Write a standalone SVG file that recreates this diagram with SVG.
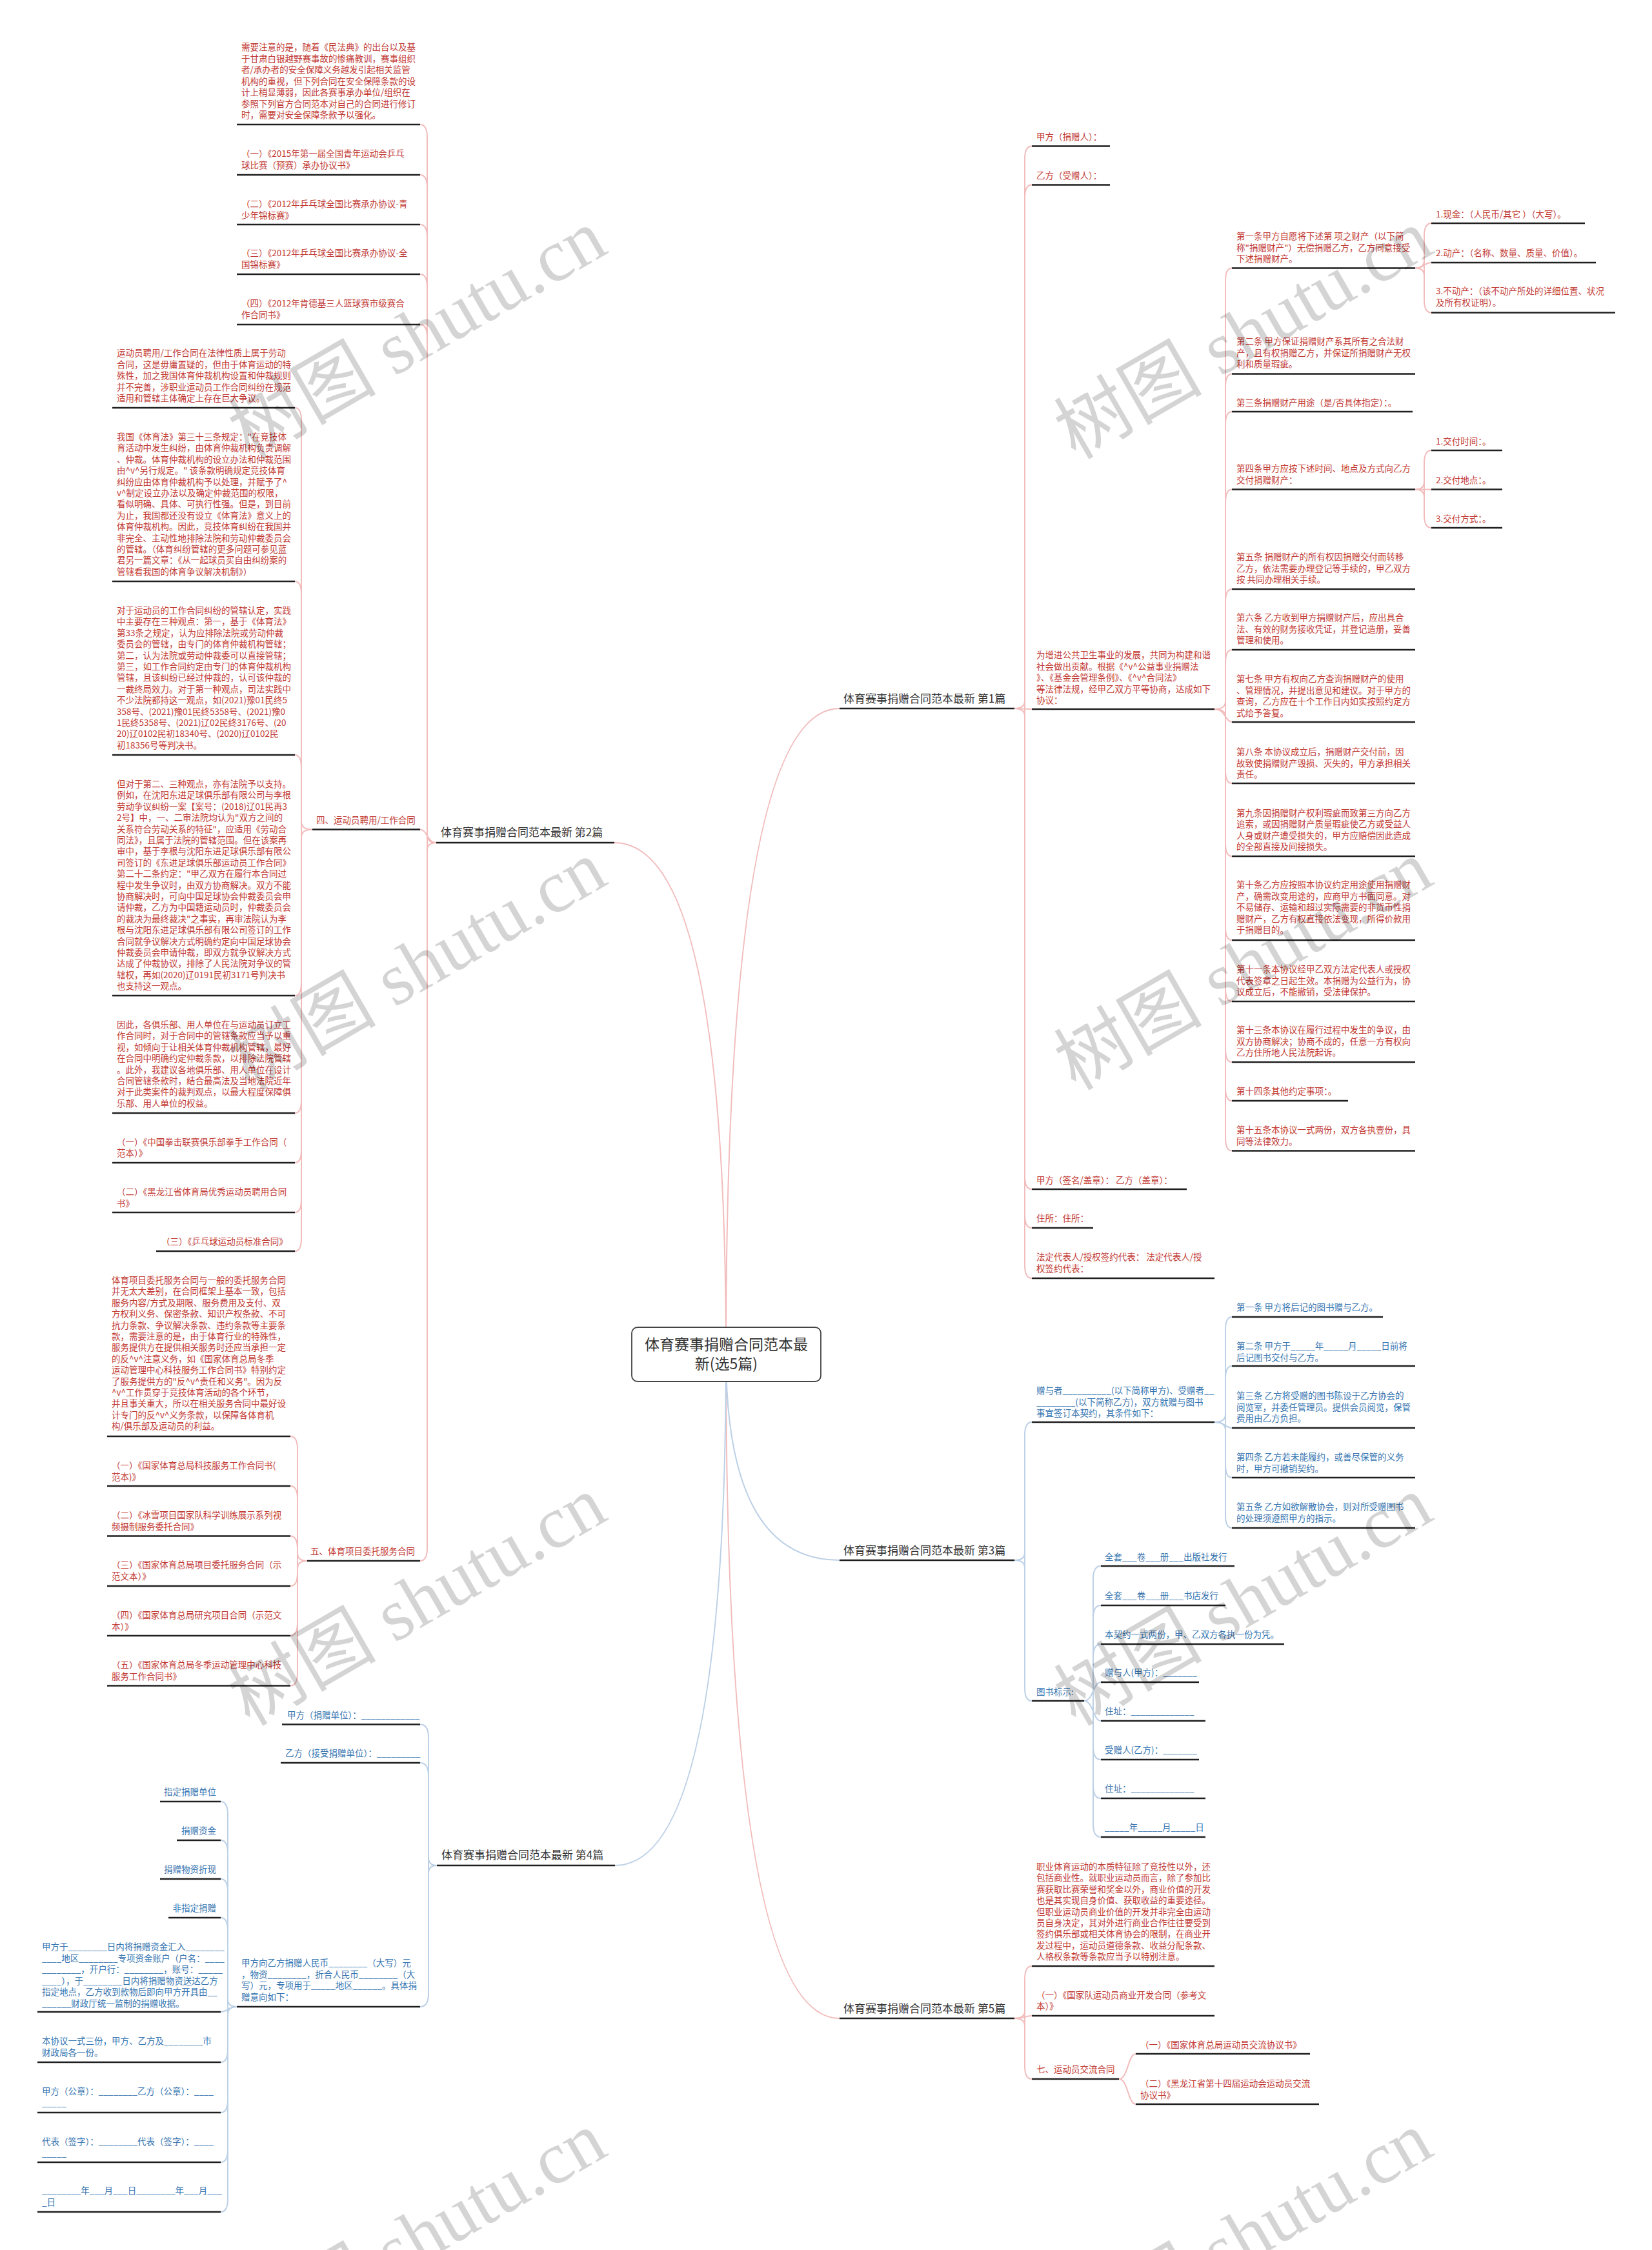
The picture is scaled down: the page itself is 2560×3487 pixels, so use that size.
<svg xmlns="http://www.w3.org/2000/svg" width="2560" height="3487" viewBox="0 0 2560 3487">
<style>
text{font-family:"Noto Sans CJK SC","Liberation Sans",sans-serif;font-size:13.5px}
.r{fill:#c23a34}
.b{fill:#3574b0}
.h{fill:#333;font-size:17px}
.ul{stroke:#1f1f1f;stroke-width:2.5}
.cp{fill:none;stroke:#f2bcbc;stroke-width:2}
.cb{fill:none;stroke:#bcd0e6;stroke-width:2}
#watermark text{fill:#000;fill-opacity:0.17;font-family:"Liberation Serif","Noto Sans CJK SC",serif;font-size:115px}
</style>
<rect width="2560" height="3487" fill="#fff"/>

<g id="connectors">
<g class="cp">
<path d="M1125 2099 Q1125 1098 1301 1098"/>
<path d="M1125 2099 Q1125 1306 952 1306"/>
<path d="M1125 2099 Q1125 3128 1301 3128"/>
<!-- G2 -->
<path d="M662 213 L662 2399"/>
<path d="M651 193 Q662 193 662 213"/><path d="M651 271 Q662 271 662 291"/><path d="M651 348 Q662 348 662 368"/><path d="M651 425 Q662 425 662 445"/><path d="M651 503 Q662 503 662 523"/>
<path d="M651 1285.5 C662 1285.5 662 1306 676 1306"/>
<path d="M651 2419 Q662 2419 662 2399"/>
<path d="M662 1294 Q662 1306 676 1306"/><path d="M662 1318 Q662 1306 676 1306"/>
<!-- G四 -->
<path d="M467 652 L467 1919"/>
<path d="M457 632 Q467 632 467 652"/><path d="M457 901 Q467 901 467 921"/><path d="M457 1170 Q467 1170 467 1190"/>
<path d="M457 1543 Q467 1543 467 1523"/><path d="M457 1725 Q467 1725 467 1705"/><path d="M457 1802 Q467 1802 467 1782"/><path d="M457 1879 Q467 1879 467 1859"/><path d="M457 1939 Q467 1939 467 1919"/>
<path d="M467 1273.5 Q467 1285.5 484 1285.5"/><path d="M467 1297.5 Q467 1285.5 484 1285.5"/>
<!-- G五 -->
<path d="M461 2246 L461 2592.6"/>
<path d="M450 2226 Q461 2226 461 2246"/><path d="M450 2303 Q461 2303 461 2323"/><path d="M450 2380.5 Q461 2380.5 461 2400.5"/>
<path d="M450 2458 Q461 2458 461 2438"/><path d="M450 2535 Q461 2535 461 2515"/><path d="M450 2612.6 Q461 2612.6 461 2592.6"/>
<path d="M461 2407 Q461 2419 476 2419"/><path d="M461 2431 Q461 2419 476 2419"/>
<!-- G1 -->
<path d="M1588 246.6 L1588 1961"/>
<path d="M1599 226.6 Q1588 226.6 1588 246.6"/><path d="M1599 286.4 Q1588 286.4 1588 306.4"/>
<path d="M1572 1098 L1599 1099"/>
<path d="M1599 1843 Q1588 1843 1588 1823"/><path d="M1599 1903 Q1588 1903 1588 1883"/><path d="M1599 1981 Q1588 1981 1588 1961"/>
<path d="M1588 1086 Q1588 1098 1572 1098"/><path d="M1588 1110 Q1588 1098 1572 1098"/>
<!-- G为增进 -->
<path d="M1899 435.6 L1899 1763.5"/>
<path d="M1909 415.6 Q1899 415.6 1899 435.6"/><path d="M1909 579.5 Q1899 579.5 1899 599.5"/><path d="M1909 638 Q1899 638 1899 658"/><path d="M1909 758.6 Q1899 758.6 1899 778.6"/><path d="M1909 913 Q1899 913 1899 933"/><path d="M1909 1007 Q1899 1007 1899 1027"/>
<path d="M1909 1119 C1899 1119 1899 1099 1882 1099"/>
<path d="M1909 1214 Q1899 1214 1899 1194"/><path d="M1909 1327 Q1899 1327 1899 1307"/><path d="M1909 1457 Q1899 1457 1899 1437"/><path d="M1909 1552 Q1899 1552 1899 1532"/><path d="M1909 1646 Q1899 1646 1899 1626"/><path d="M1909 1706 Q1899 1706 1899 1686"/><path d="M1909 1783.5 Q1899 1783.5 1899 1763.5"/>
<path d="M1899 1087 Q1899 1099 1882 1099"/><path d="M1899 1111 Q1899 1099 1882 1099"/>
<!-- G第一条 -->
<path d="M2207 366 L2207 464.5"/>
<path d="M2218 346 Q2207 346 2207 366"/><path d="M2218 407 C2207 407 2207 415.6 2193 415.6"/><path d="M2218 484.5 Q2207 484.5 2207 464.5"/>
<path d="M2207 403.6 Q2207 415.6 2193 415.6"/><path d="M2207 427.6 Q2207 415.6 2193 415.6"/>
<!-- G第四条 -->
<path d="M2207 718 L2207 798"/>
<path d="M2218 698 Q2207 698 2207 718"/><path d="M2193 758.6 L2218 758.6"/><path d="M2218 818 Q2207 818 2207 798"/>
<path d="M2207 746.6 Q2207 758.6 2193 758.6"/><path d="M2207 770.6 Q2207 758.6 2193 758.6"/>
<!-- G5 -->
<path d="M1588 3067 L1588 3202"/>
<path d="M1599 3047 Q1588 3047 1588 3067"/><path d="M1599 3124 C1588 3124 1588 3128 1572 3128"/><path d="M1599 3222 Q1588 3222 1588 3202"/>
<path d="M1588 3116 Q1588 3128 1572 3128"/><path d="M1588 3140 Q1588 3128 1572 3128"/>
<!-- G七 -->
<path d="M1760 3183 C1748 3183 1748 3222 1734 3222"/><path d="M1760 3261 C1748 3261 1748 3222 1734 3222"/>
</g>
<g class="cb">
<path d="M1125 2099 Q1125 2418 1301 2418"/>
<path d="M1125 2099 Q1125 2891 953 2891"/>
<!-- G4 -->
<path d="M664 2692.6 L664 3090"/>
<path d="M651 2672.6 Q664 2672.6 664 2692.6"/><path d="M651 2732 Q664 2732 664 2752"/><path d="M651 3110 Q664 3110 664 3090"/>
<path d="M664 2879 Q664 2891 677 2891"/><path d="M664 2903 Q664 2891 677 2891"/>
<!-- G甲方向 -->
<path d="M353 2812 L353 3408"/>
<path d="M342 2792 Q353 2792 353 2812"/><path d="M342 2852 Q353 2852 353 2872"/><path d="M342 2912 Q353 2912 353 2932"/><path d="M342 2972 Q353 2972 353 2992"/>
<path d="M342 3118 C353 3118 353 3110 367 3110"/>
<path d="M342 3196 Q353 3196 353 3176"/><path d="M342 3274 Q353 3274 353 3254"/><path d="M342 3351 Q353 3351 353 3331"/><path d="M342 3428 Q353 3428 353 3408"/>
<path d="M353 3098 Q353 3110 367 3110"/><path d="M353 3122 Q353 3110 367 3110"/>
<!-- G3 -->
<path d="M1588 2224 L1588 2616"/>
<path d="M1599 2204 Q1588 2204 1588 2224"/><path d="M1599 2636 Q1588 2636 1588 2616"/>
<path d="M1588 2406 Q1588 2418 1572 2418"/><path d="M1588 2430 Q1588 2418 1572 2418"/>
<!-- G赠与者 -->
<path d="M1899 2061 L1899 2348"/>
<path d="M1909 2041 Q1899 2041 1899 2061"/><path d="M1909 2117 Q1899 2117 1899 2137"/><path d="M1909 2213 C1899 2213 1899 2204 1882 2204"/><path d="M1909 2290 Q1899 2290 1899 2270"/><path d="M1909 2368 Q1899 2368 1899 2348"/>
<path d="M1899 2192 Q1899 2204 1882 2204"/><path d="M1899 2216 Q1899 2204 1882 2204"/>
<!-- G图书标示 -->
<path d="M1694 2447 L1694 2827"/>
<path d="M1706 2427 Q1694 2427 1694 2447"/><path d="M1706 2488 Q1694 2488 1694 2508"/><path d="M1706 2548 Q1694 2548 1694 2568"/>
<path d="M1706 2607 C1694 2607 1694 2636 1680 2636"/><path d="M1706 2667 C1694 2667 1694 2636 1680 2636"/>
<path d="M1706 2727 Q1694 2727 1694 2707"/><path d="M1706 2787 Q1694 2787 1694 2767"/><path d="M1706 2847 Q1694 2847 1694 2827"/>
</g>
</g>

<g id="root">
<rect x="979" y="2057" width="293" height="84" rx="9" fill="#fff" stroke="#444" stroke-width="1.8"/>
<text x="1125.5" y="2092" text-anchor="middle" style="font-size:23px;fill:#333">体育赛事捐赠合同范本最</text>
<text x="1125.5" y="2122" text-anchor="middle" style="font-size:23px;fill:#333">新(选5篇)</text>
</g>

<g id="b1"><text class="h" x="1307" y="1089">体育赛事捐赠合同范本最新 第1篇</text><line class="ul" x1="1301" y1="1098" x2="1572" y2="1098"/></g>
<g id="b2"><text class="h" x="683" y="1296">体育赛事捐赠合同范本最新 第2篇</text><line class="ul" x1="676" y1="1306" x2="952" y2="1306"/></g>
<g id="b3"><text class="h" x="1307" y="2409">体育赛事捐赠合同范本最新 第3篇</text><line class="ul" x1="1301" y1="2418" x2="1572" y2="2418"/></g>
<g id="b4"><text class="h" x="684" y="2881">体育赛事捐赠合同范本最新 第4篇</text><line class="ul" x1="677" y1="2891" x2="953" y2="2891"/></g>
<g id="b5"><text class="h" x="1307" y="3119">体育赛事捐赠合同范本最新 第5篇</text><line class="ul" x1="1301" y1="3128" x2="1572" y2="3128"/></g>

<!-- 第2篇 children -->
<g id="n2a"><text class="r" x="374" y="78"><tspan x="374">需要注意的是，随着《民法典》的出台以及基</tspan><tspan x="374" dy="17.5">于甘肃白银越野赛事故的惨痛教训，赛事组织</tspan><tspan x="374" dy="17.5">者/承办者的安全保障义务越发引起相关监管</tspan><tspan x="374" dy="17.5">机构的重视，但下列合同在安全保障条款的设</tspan><tspan x="374" dy="17.5">计上稍显薄弱，因此各赛事承办单位/组织在</tspan><tspan x="374" dy="17.5">参照下列官方合同范本对自己的合同进行修订</tspan><tspan x="374" dy="17.5">时，需要对安全保障条款予以强化。</tspan></text><line class="ul" x1="367" y1="193" x2="651" y2="193"/></g>
<g id="n2b"><text class="r" x="374" y="243"><tspan x="374">（一）《2015年第一届全国青年运动会乒乓</tspan><tspan x="374" dy="17.5">球比赛（预赛）承办协议书》</tspan></text><line class="ul" x1="367" y1="271" x2="651" y2="271"/></g>
<g id="n2c"><text class="r" x="374" y="321"><tspan x="374">（二）《2012年乒乓球全国比赛承办协议-青</tspan><tspan x="374" dy="17.5">少年锦标赛》</tspan></text><line class="ul" x1="367" y1="348" x2="651" y2="348"/></g>
<g id="n2d"><text class="r" x="374" y="397"><tspan x="374">（三）《2012年乒乓球全国比赛承办协议-全</tspan><tspan x="374" dy="17.5">国锦标赛》</tspan></text><line class="ul" x1="367" y1="425" x2="651" y2="425"/></g>
<g id="n2e"><text class="r" x="374" y="475"><tspan x="374">（四）《2012年肯德基三人篮球赛市级赛合</tspan><tspan x="374" dy="17.5">作合同书》</tspan></text><line class="ul" x1="367" y1="503" x2="651" y2="503"/></g>
<g id="n2f"><text class="r" x="490" y="1276">四、运动员聘用/工作合同</text><line class="ul" x1="484" y1="1285.5" x2="651" y2="1285.5"/></g>
<g id="n2g"><text class="r" x="481" y="2409">五、体育项目委托服务合同</text><line class="ul" x1="476" y1="2419" x2="651" y2="2419"/></g>

<!-- 四 children -->
<g id="n4a"><text class="r" x="181" y="552"><tspan x="181">运动员聘用/工作合同在法律性质上属于劳动</tspan><tspan x="181" dy="17.5">合同，这是毋庸置疑的，但由于体育运动的特</tspan><tspan x="181" dy="17.5">殊性，加之我国体育仲裁机构设置和仲裁规则</tspan><tspan x="181" dy="17.5">并不完善，涉职业运动员工作合同纠纷在规范</tspan><tspan x="181" dy="17.5">适用和管辖主体确定上存在巨大争议。</tspan></text><line class="ul" x1="174" y1="632" x2="457" y2="632"/></g>
<g id="n4b"><text class="r" x="181" y="682"><tspan x="181">我国《体育法》第三十三条规定："在竞技体</tspan><tspan x="181" dy="17.4">育活动中发生纠纷，由体育仲裁机构负责调解</tspan><tspan x="181" dy="17.4">、仲裁。体育仲裁机构的设立办法和仲裁范围</tspan><tspan x="181" dy="17.4">由^v^另行规定。" 该条款明确规定竞技体育</tspan><tspan x="181" dy="17.4">纠纷应由体育仲裁机构予以处理，并赋予了^</tspan><tspan x="181" dy="17.4">v^制定设立办法以及确定仲裁范围的权限，</tspan><tspan x="181" dy="17.4">看似明确、具体、可执行性强。但是，到目前</tspan><tspan x="181" dy="17.4">为止，我国都还没有设立《体育法》意义上的</tspan><tspan x="181" dy="17.4">体育仲裁机构。因此，竞技体育纠纷在我国并</tspan><tspan x="181" dy="17.4">非完全、主动性地排除法院和劳动仲裁委员会</tspan><tspan x="181" dy="17.4">的管辖。（体育纠纷管辖的更多问题可参见蓝</tspan><tspan x="181" dy="17.4">君另一篇文章：《从一起球员买自由纠纷案的</tspan><tspan x="181" dy="17.4">管辖看我国的体育争议解决机制》）</tspan></text><line class="ul" x1="174" y1="901" x2="457" y2="901"/></g>
<g id="n4c"><text class="r" x="181" y="951"><tspan x="181">对于运动员的工作合同纠纷的管辖认定，实践</tspan><tspan x="181" dy="17.4">中主要存在三种观点：第一，基于《体育法》</tspan><tspan x="181" dy="17.4">第33条之规定，认为应排除法院或劳动仲裁</tspan><tspan x="181" dy="17.4">委员会的管辖，由专门的体育仲裁机构管辖；</tspan><tspan x="181" dy="17.4">第二，认为法院或劳动仲裁委可以直接管辖；</tspan><tspan x="181" dy="17.4">第三，如工作合同约定由专门的体育仲裁机构</tspan><tspan x="181" dy="17.4">管辖，且该纠纷已经过仲裁的，认可该仲裁的</tspan><tspan x="181" dy="17.4">一裁终局效力。对于第一种观点，司法实践中</tspan><tspan x="181" dy="17.4">不少法院都持这一观点，如(2021)豫01民终5</tspan><tspan x="181" dy="17.4">358号、(2021)豫01民终5358号、(2021)豫0</tspan><tspan x="181" dy="17.4">1民终5358号、(2021)辽02民终3176号、(20</tspan><tspan x="181" dy="17.4">20)辽0102民初18340号、(2020)辽0102民</tspan><tspan x="181" dy="17.4">初18356号等判决书。</tspan></text><line class="ul" x1="174" y1="1170" x2="457" y2="1170"/></g>
<g id="n4d"><text class="r" x="181" y="1220"><tspan x="181">但对于第二、三种观点，亦有法院予以支持。</tspan><tspan x="181" dy="17.4">例如，在沈阳东进足球俱乐部有限公司与李根</tspan><tspan x="181" dy="17.4">劳动争议纠纷一案【案号：(2018)辽01民再3</tspan><tspan x="181" dy="17.4">2号】中，一、二审法院均认为"双方之间的</tspan><tspan x="181" dy="17.4">关系符合劳动关系的特征"，应适用《劳动合</tspan><tspan x="181" dy="17.4">同法》，且属于法院的管辖范围。但在该案再</tspan><tspan x="181" dy="17.4">审中，基于李根与沈阳东进足球俱乐部有限公</tspan><tspan x="181" dy="17.4">司签订的《东进足球俱乐部运动员工作合同》</tspan><tspan x="181" dy="17.4">第二十二条约定："甲乙双方在履行本合同过</tspan><tspan x="181" dy="17.4">程中发生争议时，由双方协商解决。双方不能</tspan><tspan x="181" dy="17.4">协商解决时，可向中国足球协会仲裁委员会申</tspan><tspan x="181" dy="17.4">请仲裁，乙方为中国籍运动员时，仲裁委员会</tspan><tspan x="181" dy="17.4">的裁决为最终裁决"之事实，再审法院认为李</tspan><tspan x="181" dy="17.4">根与沈阳东进足球俱乐部有限公司签订的工作</tspan><tspan x="181" dy="17.4">合同就争议解决方式明确约定向中国足球协会</tspan><tspan x="181" dy="17.4">仲裁委员会申请仲裁，即双方就争议解决方式</tspan><tspan x="181" dy="17.4">达成了仲裁协议，排除了人民法院对争议的管</tspan><tspan x="181" dy="17.4">辖权，再如(2020)辽0191民初3171号判决书</tspan><tspan x="181" dy="17.4">也支持这一观点。</tspan></text><line class="ul" x1="174" y1="1543" x2="457" y2="1543"/></g>
<g id="n4e"><text class="r" x="181" y="1593"><tspan x="181">因此，各俱乐部、用人单位在与运动员订立工</tspan><tspan x="181" dy="17.4">作合同时，对于合同中的管辖条款应当予以重</tspan><tspan x="181" dy="17.4">视，如倾向于让相关体育仲裁机构管辖，最好</tspan><tspan x="181" dy="17.4">在合同中明确约定仲裁条款，以排除法院管辖</tspan><tspan x="181" dy="17.4">。此外，我建议各地俱乐部、用人单位在设计</tspan><tspan x="181" dy="17.4">合同管辖条款时，结合最高法及当地法院近年</tspan><tspan x="181" dy="17.4">对于此类案件的裁判观点，以最大程度保障俱</tspan><tspan x="181" dy="17.4">乐部、用人单位的权益。</tspan></text><line class="ul" x1="174" y1="1725" x2="457" y2="1725"/></g>
<g id="n4f"><text class="r" x="181" y="1774.5"><tspan x="181">（一）《中国拳击联赛俱乐部拳手工作合同（</tspan><tspan x="181" dy="17.5">范本）》</tspan></text><line class="ul" x1="174" y1="1802" x2="457" y2="1802"/></g>
<g id="n4g"><text class="r" x="181" y="1852"><tspan x="181">（二）《黑龙江省体育局优秀运动员聘用合同</tspan><tspan x="181" dy="17.5">书》</tspan></text><line class="ul" x1="174" y1="1879" x2="457" y2="1879"/></g>
<g id="n4h"><text class="r" x="250" y="1929">（三）《乒乓球运动员标准合同》</text><line class="ul" x1="242" y1="1939" x2="457" y2="1939"/></g>

<!-- 五 children -->
<g id="n5a"><text class="r" x="173" y="1989"><tspan x="173">体育项目委托服务合同与一般的委托服务合同</tspan><tspan x="173" dy="17.4">并无太大差别，在合同框架上基本一致，包括</tspan><tspan x="173" dy="17.4">服务内容/方式及期限、服务费用及支付、双</tspan><tspan x="173" dy="17.4">方权利义务、保密条款、知识产权条款、不可</tspan><tspan x="173" dy="17.4">抗力条款、争议解决条款、违约条款等主要条</tspan><tspan x="173" dy="17.4">款，需要注意的是，由于体育行业的特殊性，</tspan><tspan x="173" dy="17.4">服务提供方在提供相关服务时还应当承担一定</tspan><tspan x="173" dy="17.4">的反^v^注意义务，如《国家体育总局冬季</tspan><tspan x="173" dy="17.4">运动管理中心科技服务工作合同书》特别约定</tspan><tspan x="173" dy="17.4">了服务提供方的"反^v^责任和义务"。因为反</tspan><tspan x="173" dy="17.4">^v^工作贯穿于竞技体育活动的各个环节，</tspan><tspan x="173" dy="17.4">并且事关重大，所以在相关服务合同中最好设</tspan><tspan x="173" dy="17.4">计专门的反^v^义务条款，以保障各体育机</tspan><tspan x="173" dy="17.4">构/俱乐部及运动员的利益。</tspan></text><line class="ul" x1="166" y1="2226" x2="450" y2="2226"/></g>
<g id="n5b"><text class="r" x="173" y="2276"><tspan x="173">（一）《国家体育总局科技服务工作合同书(</tspan><tspan x="173" dy="17.5">范本)》</tspan></text><line class="ul" x1="166" y1="2303" x2="450" y2="2303"/></g>
<g id="n5c"><text class="r" x="173" y="2353"><tspan x="173">（二）《冰雪项目国家队科学训练展示系列视</tspan><tspan x="173" dy="17.5">频摄制服务委托合同》</tspan></text><line class="ul" x1="166" y1="2380.5" x2="450" y2="2380.5"/></g>
<g id="n5d"><text class="r" x="173" y="2430"><tspan x="173">（三）《国家体育总局项目委托服务合同（示</tspan><tspan x="173" dy="17.5">范文本）》</tspan></text><line class="ul" x1="166" y1="2458" x2="450" y2="2458"/></g>
<g id="n5e"><text class="r" x="173" y="2508"><tspan x="173">（四）《国家体育总局研究项目合同（示范文</tspan><tspan x="173" dy="17.5">本）》</tspan></text><line class="ul" x1="166" y1="2535" x2="450" y2="2535"/></g>
<g id="n5f"><text class="r" x="173" y="2585"><tspan x="173">（五）《国家体育总局冬季运动管理中心科技</tspan><tspan x="173" dy="17.5">服务工作合同书》</tspan></text><line class="ul" x1="166" y1="2612.6" x2="450" y2="2612.6"/></g>

<!-- 第4篇 children -->
<g id="n6a"><text class="b" x="445" y="2663">甲方（捐赠单位）：____________</text><line class="ul" x1="437" y1="2672.6" x2="651" y2="2672.6"/></g>
<g id="n6b"><text class="b" x="442" y="2722">乙方（接受捐赠单位）：_________</text><line class="ul" x1="435" y1="2732" x2="651" y2="2732"/></g>
<g id="n6c"><text class="b" x="374" y="3047"><tspan x="374">甲方向乙方捐赠人民币________（大写）元</tspan><tspan x="374" dy="17.5">，物资________，折合人民币________（大</tspan><tspan x="374" dy="17.5">写）元，专项用于_____地区______。具体捐</tspan><tspan x="374" dy="17.5">赠意向如下：</tspan></text><line class="ul" x1="367" y1="3110" x2="651" y2="3110"/></g>
<g id="n7a"><text class="b" x="335" y="2782" text-anchor="end">指定捐赠单位</text><line class="ul" x1="248" y1="2792" x2="342" y2="2792"/></g>
<g id="n7b"><text class="b" x="335" y="2842" text-anchor="end">捐赠资金</text><line class="ul" x1="274" y1="2852" x2="342" y2="2852"/></g>
<g id="n7c"><text class="b" x="335" y="2902" text-anchor="end">捐赠物资折现</text><line class="ul" x1="248" y1="2912" x2="342" y2="2912"/></g>
<g id="n7d"><text class="b" x="335" y="2962" text-anchor="end">非指定捐赠</text><line class="ul" x1="261" y1="2972" x2="342" y2="2972"/></g>
<g id="n7e"><text class="b" x="65" y="3022"><tspan x="65">甲方于________日内将捐赠资金汇入________</tspan><tspan x="65" dy="17.5">____地区________专项资金账户（户名：____</tspan><tspan x="65" dy="17.5">________，开户行：________，账号：_____</tspan><tspan x="65" dy="17.5">____），于________日内将捐赠物资送达乙方</tspan><tspan x="65" dy="17.5">指定地点，乙方收到款物后即向甲方开具由__</tspan><tspan x="65" dy="17.5">______财政厅统一监制的捐赠收据。</tspan></text><line class="ul" x1="58" y1="3118" x2="342" y2="3118"/></g>
<g id="n7f"><text class="b" x="65" y="3168"><tspan x="65">本协议一式三份，甲方、乙方及________市</tspan><tspan x="65" dy="17.5">财政局各一份。</tspan></text><line class="ul" x1="58" y1="3196" x2="342" y2="3196"/></g>
<g id="n7g"><text class="b" x="65" y="3246"><tspan x="65">甲方（公章）：________乙方（公章）：____</tspan><tspan x="65" dy="17.5">_____</tspan></text><line class="ul" x1="58" y1="3274" x2="342" y2="3274"/></g>
<g id="n7h"><text class="b" x="65" y="3324"><tspan x="65">代表（签字）：________代表（签字）：____</tspan><tspan x="65" dy="17.5">_____</tspan></text><line class="ul" x1="58" y1="3351" x2="342" y2="3351"/></g>
<g id="n7i"><text class="b" x="65" y="3400"><tspan x="65">________年___月___日________年___月___</tspan><tspan x="65" dy="17.5">_日</tspan></text><line class="ul" x1="58" y1="3428" x2="342" y2="3428"/></g>

<!-- 第1篇 children -->
<g id="m1a"><text class="r" x="1606" y="217">甲方（捐赠人）：</text><line class="ul" x1="1599" y1="226.6" x2="1720" y2="226.6"/></g>
<g id="m1b"><text class="r" x="1606" y="277">乙方（受赠人）：</text><line class="ul" x1="1599" y1="286.4" x2="1720" y2="286.4"/></g>
<g id="m1c"><text class="r" x="1606" y="1020"><tspan x="1606">为增进公共卫生事业的发展，共同为构建和谐</tspan><tspan x="1606" dy="17.5">社会做出贡献。根据《^v^公益事业捐赠法</tspan><tspan x="1606" dy="17.5">》、《基金会管理条例》、《^v^合同法》</tspan><tspan x="1606" dy="17.5">等法律法规，经甲乙双方平等协商，达成如下</tspan><tspan x="1606" dy="17.5">协议：</tspan></text><line class="ul" x1="1599" y1="1099" x2="1882" y2="1099"/></g>
<g id="m1d"><text class="r" x="1606" y="1834">甲方（签名/盖章）：  乙方（盖章）：</text><line class="ul" x1="1599" y1="1843" x2="1839" y2="1843"/></g>
<g id="m1e"><text class="r" x="1606" y="1893">住所：住所：</text><line class="ul" x1="1599" y1="1903" x2="1694" y2="1903"/></g>
<g id="m1f"><text class="r" x="1606" y="1953"><tspan x="1606">法定代表人/授权签约代表：  法定代表人/授</tspan><tspan x="1606" dy="17.5">权签约代表：</tspan></text><line class="ul" x1="1599" y1="1981" x2="1882" y2="1981"/></g>

<g id="m2a"><text class="r" x="1916" y="371"><tspan x="1916">第一条甲方自愿将下述第 项之财产（以下简</tspan><tspan x="1916" dy="17.5">称"捐赠财产"）无偿捐赠乙方，乙方同意接受</tspan><tspan x="1916" dy="17.5">下述捐赠财产。</tspan></text><line class="ul" x1="1909" y1="415.6" x2="2193" y2="415.6"/></g>
<g id="m2b"><text class="r" x="1916" y="534"><tspan x="1916">第二条 甲方保证捐赠财产系其所有之合法财</tspan><tspan x="1916" dy="17.5">产，且有权捐赠乙方，并保证所捐赠财产无权</tspan><tspan x="1916" dy="17.5">利和质量瑕疵。</tspan></text><line class="ul" x1="1909" y1="579.5" x2="2193" y2="579.5"/></g>
<g id="m2c"><text class="r" x="1916" y="629">第三条捐赠财产用途（是/否具体指定）：。</text><line class="ul" x1="1909" y1="638" x2="2189" y2="638"/></g>
<g id="m2d"><text class="r" x="1916" y="731"><tspan x="1916">第四条甲方应按下述时间、地点及方式向乙方</tspan><tspan x="1916" dy="17.5">交付捐赠财产：</tspan></text><line class="ul" x1="1909" y1="758.6" x2="2193" y2="758.6"/></g>
<g id="m2e"><text class="r" x="1916" y="868"><tspan x="1916">第五条 捐赠财产的所有权因捐赠交付而转移</tspan><tspan x="1916" dy="17.5">乙方，依法需要办理登记等手续的，甲乙双方</tspan><tspan x="1916" dy="17.5">按 共同办理相关手续。</tspan></text><line class="ul" x1="1909" y1="913" x2="2193" y2="913"/></g>
<g id="m2f"><text class="r" x="1916" y="962"><tspan x="1916">第六条 乙方收到甲方捐赠财产后，应出具合</tspan><tspan x="1916" dy="17.5">法、有效的财务接收凭证，并登记造册，妥善</tspan><tspan x="1916" dy="17.5">管理和使用。</tspan></text><line class="ul" x1="1909" y1="1007" x2="2193" y2="1007"/></g>
<g id="m2g"><text class="r" x="1916" y="1057"><tspan x="1916">第七条 甲方有权向乙方查询捐赠财产的使用</tspan><tspan x="1916" dy="17.5">、管理情况，并提出意见和建议。对于甲方的</tspan><tspan x="1916" dy="17.5">查询，乙方应在十个工作日内如实按照约定方</tspan><tspan x="1916" dy="17.5">式给予答复。</tspan></text><line class="ul" x1="1909" y1="1119" x2="2193" y2="1119"/></g>
<g id="m2h"><text class="r" x="1916" y="1170"><tspan x="1916">第八条 本协议成立后，捐赠财产交付前，因</tspan><tspan x="1916" dy="17.5">故致使捐赠财产毁损、灭失的，甲方承担相关</tspan><tspan x="1916" dy="17.5">责任。</tspan></text><line class="ul" x1="1909" y1="1214" x2="2193" y2="1214"/></g>
<g id="m2i"><text class="r" x="1916" y="1264.5"><tspan x="1916">第九条因捐赠财产权利瑕疵而致第三方向乙方</tspan><tspan x="1916" dy="17.5">追索，或因捐赠财产质量瑕疵使乙方或受益人</tspan><tspan x="1916" dy="17.5">人身或财产遭受损失的，甲方应赔偿因此造成</tspan><tspan x="1916" dy="17.5">的全部直接及间接损失。</tspan></text><line class="ul" x1="1909" y1="1327" x2="2193" y2="1327"/></g>
<g id="m2j"><text class="r" x="1916" y="1376"><tspan x="1916">第十条乙方应按照本协议约定用途使用捐赠财</tspan><tspan x="1916" dy="17.5">产，确需改变用途的，应商甲方书面同意。对</tspan><tspan x="1916" dy="17.5">不易储存、运输和超过实际需要的非货币性捐</tspan><tspan x="1916" dy="17.5">赠财产，乙方有权直接依法变现，所得价款用</tspan><tspan x="1916" dy="17.5">于捐赠目的。</tspan></text><line class="ul" x1="1909" y1="1457" x2="2193" y2="1457"/></g>
<g id="m2k"><text class="r" x="1916" y="1507"><tspan x="1916">第十一条本协议经甲乙双方法定代表人或授权</tspan><tspan x="1916" dy="17.5">代表签章之日起生效。本捐赠为公益行为，协</tspan><tspan x="1916" dy="17.5">议成立后，不能撤销，受法律保护。</tspan></text><line class="ul" x1="1909" y1="1552" x2="2193" y2="1552"/></g>
<g id="m2l"><text class="r" x="1916" y="1601"><tspan x="1916">第十三条本协议在履行过程中发生的争议，由</tspan><tspan x="1916" dy="17.5">双方协商解决；协商不成的，任意一方有权向</tspan><tspan x="1916" dy="17.5">乙方住所地人民法院起诉。</tspan></text><line class="ul" x1="1909" y1="1646" x2="2193" y2="1646"/></g>
<g id="m2m"><text class="r" x="1916" y="1696">第十四条其他约定事项：。</text><line class="ul" x1="1909" y1="1706" x2="2089" y2="1706"/></g>
<g id="m2n"><text class="r" x="1916" y="1756"><tspan x="1916">第十五条本协议一式两份，双方各执壹份，具</tspan><tspan x="1916" dy="17.5">同等法律效力。</tspan></text><line class="ul" x1="1909" y1="1783.5" x2="2193" y2="1783.5"/></g>

<g id="m3a"><text class="r" x="2225" y="337">1.现金：（人民币/其它 ）（大写）。</text><line class="ul" x1="2218" y1="346" x2="2456" y2="346"/></g>
<g id="m3b"><text class="r" x="2225" y="397">2.动产：（名称、数量、质量、价值）。</text><line class="ul" x1="2218" y1="407" x2="2473" y2="407"/></g>
<g id="m3c"><text class="r" x="2225" y="456"><tspan x="2225">3.不动产：（该不动产所处的详细位置、状况</tspan><tspan x="2225" dy="17.5">及所有权证明）。</tspan></text><line class="ul" x1="2218" y1="484.5" x2="2503" y2="484.5"/></g>
<g id="m3d"><text class="r" x="2225" y="689">1.交付时间：。</text><line class="ul" x1="2218" y1="698" x2="2328" y2="698"/></g>
<g id="m3e"><text class="r" x="2225" y="749">2.交付地点：。</text><line class="ul" x1="2218" y1="758.6" x2="2328" y2="758.6"/></g>
<g id="m3f"><text class="r" x="2225" y="809">3.交付方式：。</text><line class="ul" x1="2218" y1="818" x2="2328" y2="818"/></g>

<!-- 第3篇 children -->
<g id="p1a"><text class="b" x="1606" y="2160"><tspan x="1606">赠与者__________(以下简称甲方)、受赠者__</tspan><tspan x="1606" dy="17.5">________(以下简称乙方)，双方就赠与图书</tspan><tspan x="1606" dy="17.5">事宜签订本契约，其条件如下：</tspan></text><line class="ul" x1="1599" y1="2204" x2="1882" y2="2204"/></g>
<g id="p1b"><text class="b" x="1606" y="2627">图书标示:</text><line class="ul" x1="1599" y1="2636" x2="1680" y2="2636"/></g>
<g id="p2a"><text class="b" x="1916" y="2031">第一条 甲方将后记的图书赠与乙方。</text><line class="ul" x1="1909" y1="2041" x2="2143" y2="2041"/></g>
<g id="p2b"><text class="b" x="1916" y="2091"><tspan x="1916">第二条 甲方于_____年_____月_____日前将</tspan><tspan x="1916" dy="17.5">后记图书交付与乙方。</tspan></text><line class="ul" x1="1909" y1="2117" x2="2193" y2="2117"/></g>
<g id="p2c"><text class="b" x="1916" y="2168"><tspan x="1916">第三条 乙方将受赠的图书陈设于乙方协会的</tspan><tspan x="1916" dy="17.5">阅览室，并委任管理员。提供会员阅览，保管</tspan><tspan x="1916" dy="17.5">费用由乙方负担。</tspan></text><line class="ul" x1="1909" y1="2213" x2="2193" y2="2213"/></g>
<g id="p2d"><text class="b" x="1916" y="2263"><tspan x="1916">第四条 乙方若未能履约，或善尽保管的义务</tspan><tspan x="1916" dy="17.5">时，甲方可撤销契约。</tspan></text><line class="ul" x1="1909" y1="2290" x2="2193" y2="2290"/></g>
<g id="p2e"><text class="b" x="1916" y="2340"><tspan x="1916">第五条 乙方如欲解散协会，则对所受赠图书</tspan><tspan x="1916" dy="17.5">的处理须遵照甲方的指示。</tspan></text><line class="ul" x1="1909" y1="2368" x2="2193" y2="2368"/></g>
<g id="p3a"><text class="b" x="1712" y="2418">全套___卷___册___出版社发行</text><line class="ul" x1="1706" y1="2427" x2="1913" y2="2427"/></g>
<g id="p3b"><text class="b" x="1712" y="2478">全套___卷___册___书店发行</text><line class="ul" x1="1706" y1="2488" x2="1899" y2="2488"/></g>
<g id="p3c"><text class="b" x="1712" y="2538">本契约一式两份，甲、乙双方各执一份为凭。</text><line class="ul" x1="1706" y1="2548" x2="1990" y2="2548"/></g>
<g id="p3d"><text class="b" x="1712" y="2597">赠与人(甲方)：_______</text><line class="ul" x1="1706" y1="2607" x2="1858" y2="2607"/></g>
<g id="p3e"><text class="b" x="1712" y="2657">住址：_____________</text><line class="ul" x1="1706" y1="2667" x2="1868" y2="2667"/></g>
<g id="p3f"><text class="b" x="1712" y="2717">受赠人(乙方)：_______</text><line class="ul" x1="1706" y1="2727" x2="1858" y2="2727"/></g>
<g id="p3g"><text class="b" x="1712" y="2777">住址：_____________</text><line class="ul" x1="1706" y1="2787" x2="1868" y2="2787"/></g>
<g id="p3h"><text class="b" x="1712" y="2837">_____年_____月_____日</text><line class="ul" x1="1706" y1="2847" x2="1868" y2="2847"/></g>

<!-- 第5篇 children -->
<g id="q1a"><text class="r" x="1606" y="2898"><tspan x="1606">职业体育运动的本质特征除了竞技性以外，还</tspan><tspan x="1606" dy="17.4">包括商业性。就职业运动员而言，除了参加比</tspan><tspan x="1606" dy="17.4">赛获取比赛荣誉和奖金以外，商业价值的开发</tspan><tspan x="1606" dy="17.4">也是其实现自身价值、获取收益的重要途径。</tspan><tspan x="1606" dy="17.4">但职业运动员商业价值的开发并非完全由运动</tspan><tspan x="1606" dy="17.4">员自身决定，其对外进行商业合作往往要受到</tspan><tspan x="1606" dy="17.4">签约俱乐部或相关体育协会的限制，在商业开</tspan><tspan x="1606" dy="17.4">发过程中，运动员道德条款、收益分配条款、</tspan><tspan x="1606" dy="17.4">人格权条款等条款应当予以特别注意。</tspan></text><line class="ul" x1="1599" y1="3047" x2="1882" y2="3047"/></g>
<g id="q1b"><text class="r" x="1606" y="3097"><tspan x="1606">（一）《国家队运动员商业开发合同（参考文</tspan><tspan x="1606" dy="17">本）》</tspan></text><line class="ul" x1="1599" y1="3124" x2="1882" y2="3124"/></g>
<g id="q1c"><text class="r" x="1606" y="3212">七、运动员交流合同</text><line class="ul" x1="1599" y1="3222" x2="1734" y2="3222"/></g>
<g id="q2a"><text class="r" x="1767" y="3174">（一）《国家体育总局运动员交流协议书》</text><line class="ul" x1="1760" y1="3183" x2="2030" y2="3183"/></g>
<g id="q2b"><text class="r" x="1767" y="3234"><tspan x="1767">（二）《黑龙江省第十四届运动会运动员交流</tspan><tspan x="1767" dy="17.5">协议书》</tspan></text><line class="ul" x1="1760" y1="3261" x2="2044" y2="3261"/></g>

<g id="watermark" text-anchor="middle">
<text transform="translate(646,517) rotate(-30)" dy="0.35em">树图 shutu.cn</text>
<text transform="translate(646,1495) rotate(-30)" dy="0.35em">树图 shutu.cn</text>
<text transform="translate(646,2480) rotate(-30)" dy="0.35em">树图 shutu.cn</text>
<text transform="translate(646,3465) rotate(-30)" dy="0.35em">树图 shutu.cn</text>
<text transform="translate(1926,517) rotate(-30)" dy="0.35em">树图 shutu.cn</text>
<text transform="translate(1926,1495) rotate(-30)" dy="0.35em">树图 shutu.cn</text>
<text transform="translate(1926,2480) rotate(-30)" dy="0.35em">树图 shutu.cn</text>
<text transform="translate(1926,3465) rotate(-30)" dy="0.35em">树图 shutu.cn</text>
</g>
</svg>
